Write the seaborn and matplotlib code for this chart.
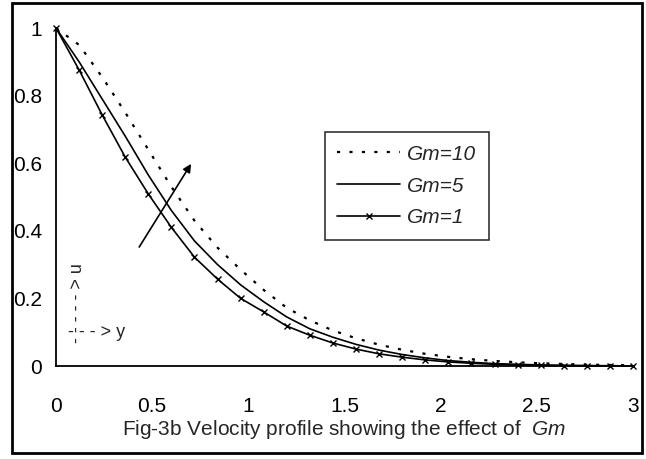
import numpy as np
import pandas as pd
import matplotlib
matplotlib.use("Agg")
import matplotlib.pyplot as plt
import seaborn as sns
from matplotlib.patches import Rectangle

# velocity profiles, y step 0.12
y = [0.0, 0.12, 0.24, 0.36, 0.48, 0.60, 0.72, 0.84, 0.96, 1.08, 1.20, 1.32, 1.44,
     1.56, 1.68, 1.80, 1.92, 2.04, 2.16, 2.28, 2.40, 2.52, 2.64, 2.76, 2.88, 3.00]
u_gm10 = [1.0, 0.95, 0.855, 0.75, 0.64, 0.53, 0.43, 0.35, 0.285, 0.225, 0.172, 0.135, 0.105,
          0.082, 0.063, 0.048, 0.036, 0.027, 0.020, 0.015, 0.011, 0.008, 0.006, 0.004, 0.003, 0.002]
u_gm5 = [1.0, 0.90, 0.79, 0.68, 0.565, 0.46, 0.37, 0.30, 0.24, 0.19, 0.145, 0.11, 0.085,
         0.064, 0.047, 0.034, 0.024, 0.016, 0.011, 0.007, 0.005, 0.003, 0.002, 0.001, 0.001, 0.0]
u_gm1 = [1.0, 0.876, 0.743, 0.618, 0.509, 0.41, 0.322, 0.257, 0.20, 0.16, 0.118, 0.091, 0.068,
         0.050, 0.036, 0.026, 0.018, 0.012, 0.008, 0.005, 0.003, 0.002, 0.001, 0.001, 0.0, 0.0]
labels = ["Gm=10", "Gm=5", "Gm=1"]
xticks = [0, 0.5, 1, 1.5, 2, 2.5, 3]
yticks = [0, 0.2, 0.4, 0.6, 0.8, 1]

sns.set_style("white")
plt.rcParams["font.family"] = ["Liberation Sans", "DejaVu Sans"]
plt.rcParams["mathtext.fontset"] = "custom"
plt.rcParams["mathtext.it"] = "Liberation Sans:italic"
plt.rcParams["mathtext.rm"] = "Liberation Sans"

fig = plt.figure(figsize=(6.46, 4.59), dpi=100)
ax = fig.add_axes([56 / 646, 1 - 366 / 459, 577 / 646, 338 / 459])

sns.lineplot(x=y, y=u_gm10, ax=ax, color="black", lw=1.6, linestyle=(0, (1.4, 4.2)),
             label=labels[0], clip_on=False)
sns.lineplot(x=y, y=u_gm5, ax=ax, color="black", lw=1.2, label=labels[1], clip_on=False)
sns.lineplot(x=y, y=u_gm1, ax=ax, color="black", lw=1.2, marker="x", markersize=4,
             markeredgewidth=1, markeredgecolor="black", label=labels[2], clip_on=False)

ax.set_xlim(0, 3)
ax.set_ylim(0, 1)
ax.set_xticks(xticks)
ax.set_yticks(yticks)
ax.set_xticklabels([f"{t:g}" for t in xticks])
ax.set_yticklabels([f"{t:g}" for t in yticks])
for s in ["top", "right"]:
    ax.spines[s].set_visible(False)
for s in ["left", "bottom"]:
    ax.spines[s].set_linewidth(1.3)
    ax.spines[s].set_color("black")
ax.tick_params(axis="x", direction="out", length=6, width=1, pad=16, labelsize=15, colors="black")
ax.tick_params(axis="y", direction="out", length=5, width=1, pad=5, labelsize=15, colors="black")
ax.set_xlabel("Fig-3b Velocity profile showing the effect of  $\\it{Gm}$", fontsize=15, labelpad=2)
ax.set_ylabel("")

leg = ax.legend(loc="upper left", bbox_to_anchor=(0.466, 0.692), borderaxespad=0,
                frameon=True, fancybox=False, edgecolor="black", handlelength=3.0,
                handletextpad=0.35, borderpad=0.6, labelspacing=0.62,
                prop={"style": "italic", "size": 15})
leg.get_frame().set_linewidth(1.2)

# direction arrow (increasing Gm)
ax.annotate("", xy=(0.71, 0.605), xytext=(0.425, 0.345),
            arrowprops=dict(arrowstyle="-|>", color="black", lw=1.2, mutation_scale=12))

# axes hint
ax.text(0.062, 0.1, "- - - > y", fontsize=13, va="center", ha="left")
ax.text(0.114, 0.068, "- - - - - > u", fontsize=13, rotation=90, va="bottom", ha="center")

fig.patches.append(Rectangle((12 / 646, 1 - 453 / 459), 630 / 646, 450 / 459,
                             transform=fig.transFigure, fill=False, edgecolor="black", lw=2))

fig.savefig("out.png", dpi=100)
